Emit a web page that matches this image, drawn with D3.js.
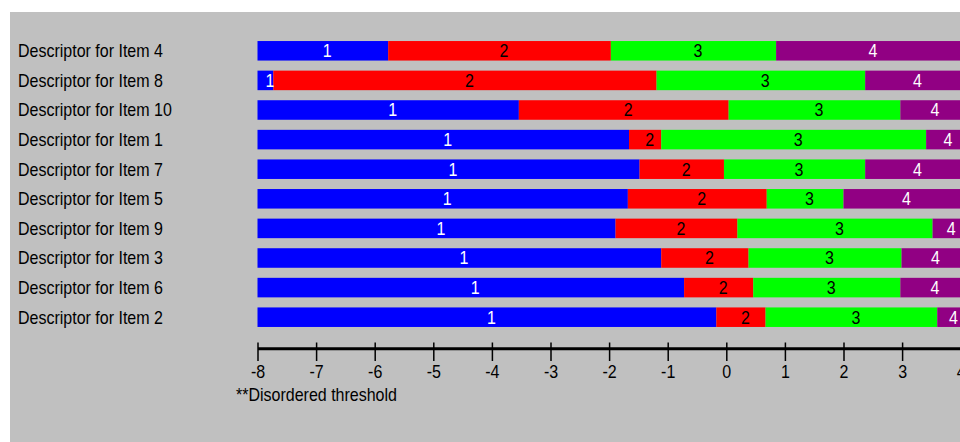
<!DOCTYPE html>
<html>
<head>
<meta charset="utf-8">
<script src="https://cdn.jsdelivr.net/npm/d3@7"></script>
<style>
  body { margin: 0; background: #fff; }
  text { font-family: "Liberation Sans", Arial, sans-serif; font-size: 18px; fill: #000; }
</style>
</head>
<body>
<div id="chart"></div>
<script>
// items top to bottom
var items = ["Descriptor for Item 4", "Descriptor for Item 8", "Descriptor for Item 10",
    "Descriptor for Item 1", "Descriptor for Item 7", "Descriptor for Item 5",
    "Descriptor for Item 9", "Descriptor for Item 3", "Descriptor for Item 6",
    "Descriptor for Item 2"];

// category boundaries (logits)
var start = [-8, -8, -8, -8, -8, -8, -8, -8, -8, -8];
var thresh1 = [-5.77, -7.73, -3.54, -1.66, -1.48, -1.68, -1.89, -1.11, -0.72, -0.17];
var thresh2 = [-1.97, -1.19, 0.04, -1.11, -0.04, 0.69, 0.19, 0.38, 0.46, 0.67];
var thresh3 = [0.85, 2.37, 2.97, 3.41, 2.37, 2.00, 3.52, 2.99, 2.97, 3.60];
var end = [4, 4, 4, 4, 4, 4, 4, 4, 4, 4];

var categories = ["1", "2", "3", "4"];
var ticks = [-8, -7, -6, -5, -4, -3, -2, -1, 0, 1, 2, 3, 4];
var note = "**Disordered threshold";

var colors = ["#0000ff", "#ff0000", "#00ff00", "#910083"];
var labelColors = ["#fff", "#000", "#000", "#fff"];

var width = 960, height = 442;
var sx = 0.89; // narrow the glyphs a bit

var svg = d3.select("#chart").append("svg")
    .attr("width", width)
    .attr("height", height);

svg.append("rect")
    .attr("x", 10).attr("y", 12)
    .attr("width", width - 10).attr("height", height - 12)
    .attr("fill", "#c0c0c0");

var x = d3.scaleLinear()
    .domain([-8, 4])
    .range([257.5, 960.7]);

var y = d3.scaleBand()
    .domain(items)
    .range([36, 332])
    .paddingInner(0.34)
    .paddingOuter(0.17);

// segments per item
var segs = [];
items.forEach(function(name, i) {
    var b = [start[i], thresh1[i], thresh2[i], thresh3[i], end[i]];
    for (let k = 0; k < 4; k++) {
        segs.push({item: name, k: k, x0: b[k], x1: b[k + 1]});
    }
});

svg.append("g").selectAll("rect")
    .data(segs)
    .enter().append("rect")
    .attr("x", function(d) { return x(d.x0); })
    .attr("y", function(d) { return y(d.item); })
    .attr("width", function(d) { return x(d.x1) - x(d.x0); })
    .attr("height", y.bandwidth())
    .attr("fill", function(d) { return colors[d.k]; });

svg.append("g").selectAll("text")
    .data(segs)
    .enter().append("text")
    .attr("transform", function(d) {
        var cx = (x(d.x0) + x(d.x1)) / 2;
        var cy = y(d.item) + y.bandwidth() / 2;
        return "translate(" + cx + "," + cy + ") scale(" + sx + ",1)";
    })
    .attr("dy", "0.36em")
    .style("fill", function(d) { return labelColors[d.k]; })
    .text(function(d) { return categories[d.k]; });

// item names
svg.append("g").selectAll("text")
    .data(items)
    .enter().append("text")
    .attr("transform", function(d) {
        return "translate(18," + (y(d) + y.bandwidth() / 2) + ") scale(" + sx + ",1)";
    })
    .attr("dy", "0.36em")
    .text(function(d) { return d; });

// axis
var axis = svg.append("g")
    .attr("transform", "translate(0,348.3)")
    .call(d3.axisBottom(x).tickValues(ticks).tickSizeOuter(0)
        .tickFormat(function(d) { return String(d); }));

axis.select(".domain")
    .attr("stroke", "#000")
    .attr("stroke-width", 3);
axis.selectAll(".tick line")
    .attr("y1", -5.8)
    .attr("y2", 12.7)
    .attr("stroke", "#000")
    .attr("stroke-width", 1.5);
axis.selectAll(".tick text")
    .attr("y", 30)
    .attr("dy", 0)
    .attr("transform", "scale(" + sx + ",1)")
    .style("font-family", "\"Liberation Sans\", Arial, sans-serif")
    .style("font-size", "18px")
    .attr("fill", "#000");

svg.append("text")
    .attr("transform", "translate(236,394.5) scale(" + sx + ",1)")
    .attr("dy", "0.36em")
    .text(note);
</script>
</body>
</html>
